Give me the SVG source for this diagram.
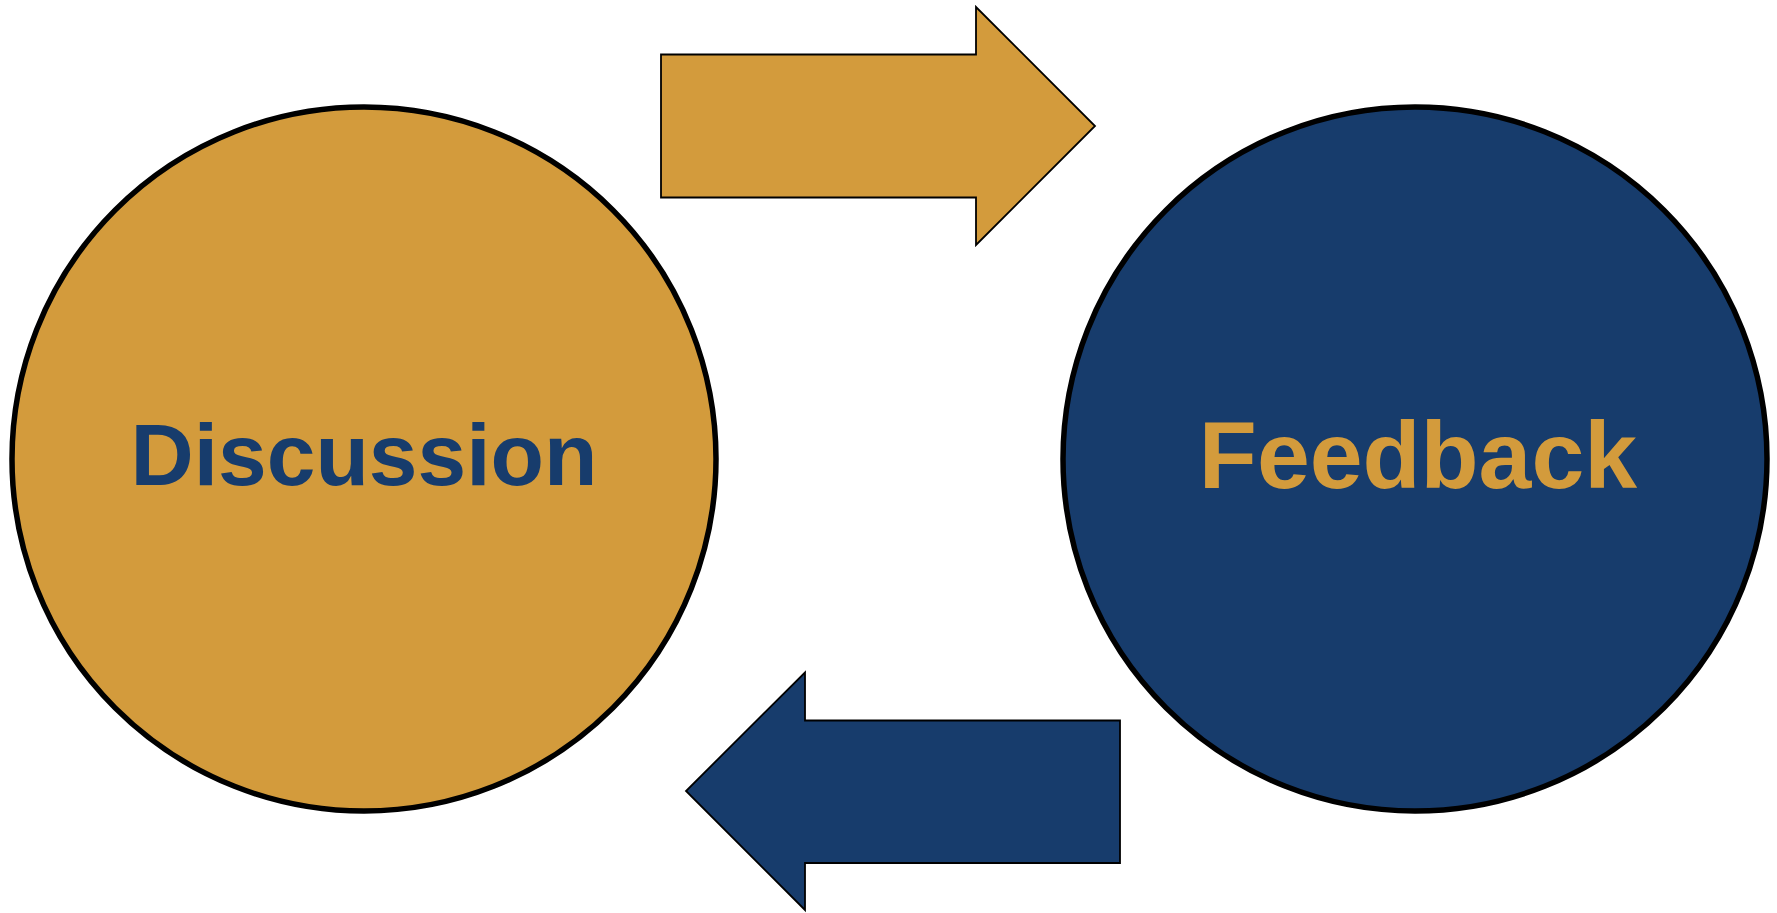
<svg xmlns="http://www.w3.org/2000/svg" width="1777" height="913" viewBox="0 0 1777 913">
<style>
.gold{fill:#D39B3C}
.navy{fill:#173C6C}
.circ{stroke:#000;stroke-width:5.5}
.arrow{stroke:#000;stroke-width:1.8;stroke-linejoin:miter}
.lbl{font-family:"Liberation Sans",Arial,sans-serif;font-weight:bold;text-anchor:middle}
</style>
<rect width="1777" height="913" fill="#fff"/>
<g id="discussion">
<circle class="gold circ" cx="364" cy="459" r="352"/>
<text class="lbl navy" x="364" y="485" font-size="87.5">Discussion</text>
</g>
<g id="feedback">
<circle class="navy circ" cx="1415" cy="459" r="352"/>
<text class="lbl gold" x="1418" y="488" font-size="95">Feedback</text>
</g>
<g id="connectors">
<polygon class="gold arrow" points="661,54.5 976,54.5 976,7 1095,126 976,245 976,197.5 661,197.5"/>
<polygon class="navy arrow" points="1120,720.5 805,720.5 805,672.5 686,791 805,910 805,863 1120,863"/>
</g>
</svg>
